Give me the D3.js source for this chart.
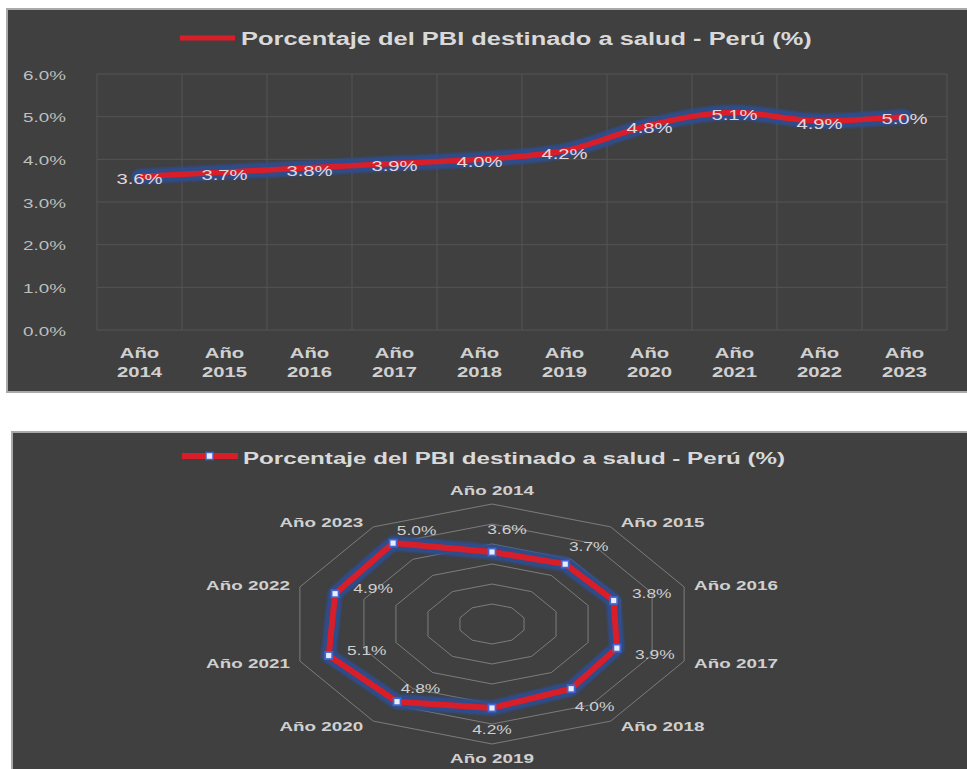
<!DOCTYPE html>
<html><head><meta charset="utf-8">
<script src="https://cdn.jsdelivr.net/npm/d3@7"></script>
<style>body{margin:0;background:#fff}svg{display:block}</style>
</head><body>
<svg id="c" width="967" height="769"></svg>
<script>
// ---------- DATA ----------
const seriesName = "Porcentaje del PBI destinado a salud - Perú (%)";
const years = ["2014","2015","2016","2017","2018","2019","2020","2021","2022","2023"];
const categories = years.map(y => "Año " + y);
const values = [3.6, 3.7, 3.8, 3.9, 4.0, 4.2, 4.8, 5.1, 4.9, 5.0];
const yTicks = [0, 1, 2, 3, 4, 5, 6];
const radarRings = [1, 2, 3, 4, 5, 6];

// ---------- STYLE ----------
const FONT = "'Liberation Sans', Arial, sans-serif";
const SX = 1.45;
const BG = "#404040";
const RED = "#d81e28";
const GLOW = "#2f4d8f";
const TXT = "#d9d9d9";
const fmt = v => v.toFixed(1) + "%";

const svg = d3.select("#c");
const defs = svg.append("defs");
defs.append("filter").attr("id","blur").attr("x","-10%").attr("y","-50%").attr("width","120%").attr("height","200%")
  .append("feGaussianBlur").attr("stdDeviation", 1.1);

function stext(parent, x, y, str, o) {
  const t = parent.append("text")
    .attr("transform", `translate(${x},${y}) scale(${o.sx || SX},1)`)
    .attr("text-anchor", o.anchor || "middle")
    .attr("dominant-baseline", "central")
    .style("font-family", FONT)
    .style("font-size", o.size + "px")
    .style("font-weight", o.weight || "normal")
    .attr("fill", o.fill || TXT)
    .text(str);
  if (o.width) {
    const w = t.node().getComputedTextLength();
    t.attr("transform", `translate(${x},${y}) scale(${o.width / w},1)`);
  }
  return t;
}

// ================= TOP: LINE CHART =================
const gTop = svg.append("g");
gTop.append("rect").attr("x", 7).attr("y", 9).attr("width", 980).attr("height", 383)
  .attr("fill", BG).attr("stroke", "#a9a9a9").attr("stroke-width", 2);

const xBand = d3.scaleBand().domain(categories).range([97, 947]);
const x = d3.scalePoint().domain(categories).range([97, 947]).padding(0.5);
const y = d3.scaleLinear().domain([0, 6]).range([330, 74]);

// gridlines
gTop.append("g").selectAll("line").data(yTicks).join("line")
  .attr("x1", 97).attr("x2", 947).attr("y1", d => y(d)).attr("y2", d => y(d))
  .attr("stroke", "#545454").attr("stroke-width", 1);
const vb = categories.map(c => xBand(c)).concat([xBand.range()[1]]);
gTop.append("g").selectAll("line").data(vb).join("line")
  .attr("x1", d => d).attr("x2", d => d).attr("y1", y(6)).attr("y2", y(0))
  .attr("stroke", "#545454").attr("stroke-width", 1);

// y tick labels
yTicks.forEach(t => stext(gTop, 66, y(t) + 1, fmt(t), {size: 13, anchor: "end", fill: "#bfbfbf"}));

// x labels (two lines)
categories.forEach((c, i) => {
  stext(gTop, x(c), 353, "Año", {size: 14, weight: "bold", fill: "#d0d0d0"});
  stext(gTop, x(c), 372, years[i], {size: 14, weight: "bold", fill: "#d0d0d0"});
});

// line
const line = d3.line().x((d, i) => x(categories[i])).y(d => y(d)).curve(d3.curveMonotoneX);
gTop.append("path").attr("d", line(values)).attr("fill", "none")
  .attr("stroke", GLOW).attr("stroke-width", 15).attr("stroke-linejoin","round").attr("stroke-linecap","round")
  .attr("opacity", 0.95).attr("filter", "url(#blur)");
gTop.append("path").attr("d", line(values)).attr("fill", "none")
  .attr("stroke", RED).attr("stroke-width", 5.5).attr("stroke-linejoin","round");

// data labels
values.forEach((v, i) => stext(gTop, x(categories[i]), y(v) + 3, fmt(v), {size: 14, fill: "#e2d6d8"}));

// legend / title
gTop.append("line").attr("x1", 180).attr("x2", 235).attr("y1", 38).attr("y2", 38)
  .attr("stroke", RED).attr("stroke-width", 5);
stext(gTop, 241, 39, seriesName, {size: 19, weight: "bold", anchor: "start", width: 571, fill: "#d9d9d9"});

// ================= BOTTOM: RADAR CHART =================
const gBot = svg.append("g");
gBot.append("rect").attr("x", 12).attr("y", 432).attr("width", 980).attr("height", 360)
  .attr("fill", BG).attr("stroke", "#a9a9a9").attr("stroke-width", 2);

const cx = 492, cy = 624;
const rX = d3.scaleLinear().domain([0, 6]).range([0, 202]);
const rY = d3.scaleLinear().domain([0, 6]).range([0, 120]);
const ang = d3.scaleLinear().domain([0, categories.length]).range([0, 2 * Math.PI]);
const px = (v, i) => cx + rX(v) * Math.sin(ang(i));
const py = (v, i) => cy - rY(v) * Math.cos(ang(i));
const poly = d3.line().curve(d3.curveLinearClosed);

// rings
gBot.append("g").selectAll("path").data(radarRings).join("path")
  .attr("d", r => poly(categories.map((c, i) => [px(r, i), py(r, i)])))
  .attr("fill", "none").attr("stroke", "#7c7c7c").attr("stroke-width", 1);

// category labels
categories.forEach((c, i) => {
  const a = ang(i), s = Math.sin(a), co = Math.cos(a);
  const side = Math.abs(s) < 0.1;
  const lx = px(6, i) + (side ? 0 : 10 * Math.sign(s));
  const ly = py(6, i) - co * (side ? 14 : 6);
  stext(gBot, lx, ly, c, {size: 13, weight: "bold", anchor: side ? "middle" : (s > 0 ? "start" : "end"), fill: "#d0d0d0"});
});

// data polygon
const dataPts = values.map((v, i) => [px(v, i), py(v, i)]);
gBot.append("path").attr("d", poly(dataPts)).attr("fill", "none")
  .attr("stroke", GLOW).attr("stroke-width", 15).attr("stroke-linejoin", "round")
  .attr("opacity", 0.95).attr("filter", "url(#blur)");
gBot.append("path").attr("d", poly(dataPts)).attr("fill", "none")
  .attr("stroke", RED).attr("stroke-width", 6).attr("stroke-linejoin", "round");
gBot.append("g").selectAll("rect").data(dataPts).join("rect")
  .attr("x", d => d[0] - 3.5).attr("y", d => d[1] - 3.5).attr("width", 7).attr("height", 7)
  .attr("fill", "#e8ecff").attr("stroke", "#4466cc").attr("stroke-width", 1.8);

// data labels
values.forEach((v, i) => {
  const a = ang(i), s = Math.sin(a), co = Math.cos(a);
  const dx = 40 * Math.abs(s) + (Math.abs(s) < 0.1 && co > 0 ? 15 : 0);
  const dy = s >= -0.01 ? -co * 22 : -Math.abs(co) * 16;
  stext(gBot, px(v, i) + dx, py(v, i) + dy, fmt(v), {size: 12, fill: "#cfcfcf"});
});

// legend / title
gBot.append("line").attr("x1", 182).attr("x2", 238).attr("y1", 456).attr("y2", 456)
  .attr("stroke", RED).attr("stroke-width", 6);
gBot.append("rect").attr("x", 206).attr("y", 452.5).attr("width", 7).attr("height", 7)
  .attr("fill", "#e8ecff").attr("stroke", "#4466cc").attr("stroke-width", 1.5);
stext(gBot, 243, 458, seriesName, {size: 17, weight: "bold", anchor: "start", width: 542, fill: "#d9d9d9"});
</script>
</body></html>
